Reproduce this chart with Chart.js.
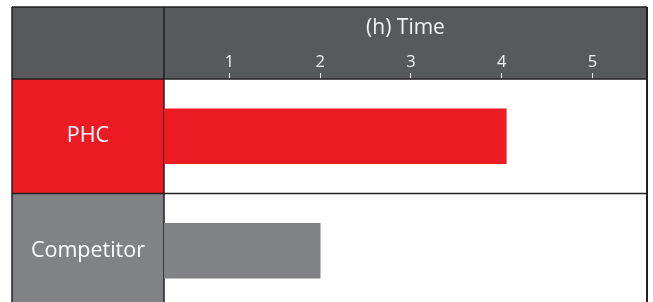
<!DOCTYPE html>
<html>
<head>
<meta charset="utf-8">
<script src="https://cdn.jsdelivr.net/npm/chart.js@4/dist/chart.umd.min.js"></script>
<style>
  html, body { margin: 0; padding: 0; background: #ffffff; overflow: hidden; }
  #wrap { position: relative; width: 653px; height: 310px; }
</style>
</head>
<body>
<div id="wrap"><canvas id="c"></canvas></div>
<script>
// ---- data ----
const categories = ['PHC', 'Competitor'];
const timeHours = [4.05, 2.0];
const xTickValues = [1, 2, 3, 4, 5];
const axisTitle = '(h) Time';

// ---- styles ----
const barColors = ['#ed1c24', '#808285'];
const headerColor = '#58595b';
const lineColor = '#231f20';
const FONT = '"Open Sans", "Noto Sans", sans-serif';

const tablePlugin = {
  id: 'tableCells',
  beforeDraw(chart) {
    const { ctx, chartArea, scales } = chart;
    const y = scales.y;
    const outerLeft = 12, outerTop = 7;
    ctx.save();
    ctx.fillStyle = headerColor;
    ctx.fillRect(outerLeft, outerTop, chartArea.right - outerLeft, chartArea.top - outerTop);
    const n = categories.length;
    const half = (y.bottom - y.top) / n / 2;
    categories.forEach((c, i) => {
      const cy = y.getPixelForValue(i);
      ctx.fillStyle = barColors[i];
      ctx.fillRect(outerLeft, cy - half, chartArea.left - outerLeft, 2 * half);
    });
    ctx.restore();
  },
  beforeDatasetsDraw(chart) {
    const { ctx, chartArea, scales } = chart;
    const y = scales.y;
    const outerLeft = 12, outerTop = 7;
    const H = chart.height;
    ctx.save();
    ctx.strokeStyle = lineColor;
    const line = (x1, y1, x2, y2, w) => {
      ctx.lineWidth = w || 1.5;
      ctx.beginPath(); ctx.moveTo(x1, y1); ctx.lineTo(x2, y2); ctx.stroke();
    };
    line(outerLeft, outerTop, chartArea.right, outerTop, 1.5);
    line(outerLeft, outerTop, outerLeft, H, 1.5);
    line(chartArea.left, outerTop, chartArea.left, H, 1.5);
    line(outerLeft, chartArea.top, chartArea.right, chartArea.top, 1.5);
    const n = categories.length;
    const half = (y.bottom - y.top) / n / 2;
    for (let i = 0; i < n - 1; i++) {
      const b = y.getPixelForValue(i) + half;
      line(outerLeft, b, chartArea.right, b, 1.5);
    }
    line(chartArea.right, outerTop, chartArea.right, H, 2);
    ctx.restore();
  }
};

new Chart(document.getElementById('c'), {
  type: 'bar',
  data: {
    labels: categories,
    datasets: [{
      data: timeHours,
      backgroundColor: barColors,
      borderWidth: 0,
      barThickness: 55
    }]
  },
  options: {
    indexAxis: 'y',
    responsive: true,
    maintainAspectRatio: false,
    animation: false,
    events: [],
    layout: { padding: { left: 12, top: 7, right: 6, bottom: 2 } },
    plugins: { legend: { display: false }, tooltip: { enabled: false } },
    scales: {
      x: {
        type: 'linear',
        position: 'top',
        min: 0.28,
        max: 5.6,
        afterBuildTicks(scale) { scale.ticks = xTickValues.map(v => ({ value: v })); },
        ticks: {
          color: '#f2f2f2',
          font: { family: FONT, size: 16.5 },
          padding: 1,
          maxRotation: 0
        },
        grid: {
          display: true,
          drawOnChartArea: false,
          drawTicks: true,
          tickLength: 6,
          tickWidth: 1,
          tickColor: '#e6e6e6'
        },
        border: { display: false },
        title: {
          display: true,
          text: axisTitle,
          color: '#f2f2f2',
          font: { family: FONT, size: 21 },
          padding: { top: 8.4, bottom: 10.6 }
        }
      },
      y: {
        type: 'category',
        position: 'left',
        afterFit(scale) {
          scale.width = 152;
          scale.paddingTop = 0;
          scale.paddingBottom = 0;
        },
        ticks: {
          color: '#ffffff',
          font: { family: FONT, size: 21.5 },
          crossAlign: 'center',
          padding: 19
        },
        grid: { display: false, drawTicks: false },
        border: { display: false }
      }
    }
  },
  plugins: [tablePlugin]
});
</script>
</body>
</html>
